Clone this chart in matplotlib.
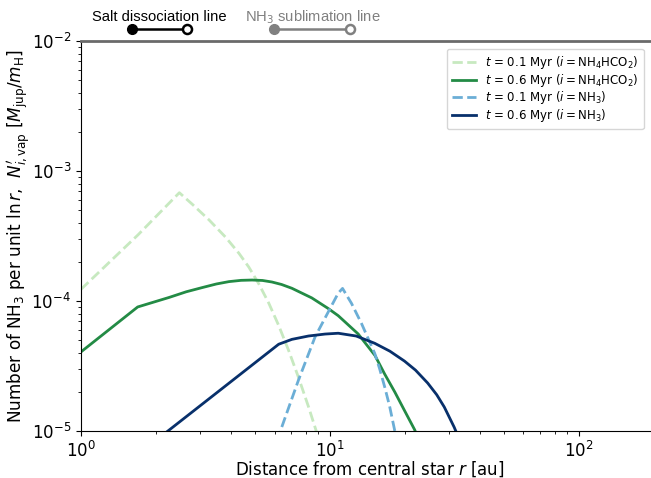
import matplotlib
matplotlib.use("Agg")
import matplotlib.pyplot as plt
import matplotlib.transforms as mtransforms

# ---- data ----
r_salt01 = [1.0, 1.693, 2.485, 2.807, 3.273, 3.816, 4.312, 4.729, 5.184, 5.683, 6.229, 6.83, 7.486, 8.207, 8.857, 9.16]
N_salt01 = [1.23e-4, 3.22e-4, 6.81e-4, 5.53e-4, 4.20e-4, 3.09e-4, 2.33e-4, 1.82e-4, 1.355e-4, 9.64e-5, 6.49e-5, 4.17e-5, 2.58e-5, 1.54e-5, 9.75e-6, 7.9e-6]

r_salt06 = [1.0, 1.69, 2.266, 2.65, 3.077, 3.5, 3.934, 4.4, 4.873, 5.36, 5.857, 6.4, 7.04, 8.46, 9.86, 10.81, 13.0, 15.19, 16.6, 18.26, 19.95, 21.94, 22.77]
N_salt06 = [4.06e-5, 9.0e-5, 1.067e-4, 1.178e-4, 1.27e-4, 1.352e-4, 1.41e-4, 1.442e-4, 1.45e-4, 1.439e-4, 1.40e-4, 1.34e-4, 1.253e-4, 1.057e-4, 8.75e-5, 7.71e-5, 5.58e-5, 3.81e-5, 2.75e-5, 1.99e-5, 1.44e-5, 1.02e-5, 8.53e-6]

r_nh301 = [6.12, 6.42, 7.486, 8.73, 10.81, 11.25, 12.22, 13.40, 15.15, 15.85, 16.61, 17.38, 18.21, 18.6]
N_nh301 = [8.4e-6, 1.08e-5, 2.47e-5, 5.31e-5, 1.15e-4, 1.25e-4, 9.6e-5, 6.73e-5, 3.96e-5, 3.02e-5, 2.19e-5, 1.56e-5, 1.02e-5, 8.4e-6]

r_nh306 = [1.99, 6.23, 7.04, 8.21, 9.57, 10.81, 12.76, 15.15, 17.44, 19.96, 22.1, 24.73, 26.9, 28.84, 31.61, 32.6]
N_nh306 = [8.4e-6, 4.65e-5, 5.07e-5, 5.38e-5, 5.57e-5, 5.65e-5, 5.38e-5, 4.73e-5, 4.11e-5, 3.45e-5, 2.94e-5, 2.34e-5, 1.90e-5, 1.53e-5, 1.07e-5, 9.3e-6]

salt_line_r = [1.61, 2.67]
nh3_line_r = [5.99, 12.1]

labels = [r'$t$ = 0.1 Myr ($i = \mathrm{NH_4HCO_2}$)',
          r'$t$ = 0.6 Myr ($i = \mathrm{NH_4HCO_2}$)',
          r'$t$ = 0.1 Myr ($i = \mathrm{NH_3}$)',
          r'$t$ = 0.6 Myr ($i = \mathrm{NH_3}$)']

c_lightgreen = '#c7e9c0'
c_green = '#238b45'
c_lightblue = '#6baed6'
c_navy = '#08306b'

fig = plt.figure(figsize=(6.51, 4.78), dpi=100)
ax = fig.add_axes([0.1244, 0.0983, 0.8876, 0.8159])

ax.plot(r_salt01, N_salt01, color=c_lightgreen, ls='--', lw=2, label=labels[0])
ax.plot(r_salt06, N_salt06, color=c_green, ls='-', lw=2, label=labels[1])
ax.plot(r_nh301, N_nh301, color=c_lightblue, ls='--', lw=2, label=labels[2])
ax.plot(r_nh306, N_nh306, color=c_navy, ls='-', lw=2, label=labels[3])

ax.set_xscale('log')
ax.set_yscale('log')
ax.set_xlim(1, 210)
ax.set_ylim(1e-5, 1e-2)

ax.spines['right'].set_visible(False)
ax.spines['top'].set_color('#6a6a6a')
ax.spines['top'].set_linewidth(2)

ax.tick_params(axis='both', which='major', labelsize=12)
ax.set_xlabel(r'Distance from central star $r$ [au]', fontsize=12, labelpad=-1.3)
ax.set_ylabel(r'Number of NH$_3$ per unit $\ln r$,  $N^{\prime}_{i,\mathrm{vap}}$ [$M_{\mathrm{jup}}/m_{\mathrm{H}}$]',
              fontsize=12.2, labelpad=-1)

leg = ax.legend(loc='upper right', fontsize=8.5, bbox_to_anchor=(0.984, 0.995), handlelength=2.0,
                labelspacing=0.05, borderpad=0.45)

trans = mtransforms.blended_transform_factory(ax.transData, ax.transAxes)
yline = 1.031
ax.plot(salt_line_r, [yline, yline], color='black', lw=1.8, transform=trans, clip_on=False)
ax.plot([salt_line_r[0]], [yline], 'o', color='black', ms=7, transform=trans, clip_on=False)
ax.plot([salt_line_r[1]], [yline], 'o', color='black', mfc='white', mew=1.8, ms=6.5, transform=trans, clip_on=False)
ax.plot(nh3_line_r, [yline, yline], color='gray', lw=1.8, transform=trans, clip_on=False)
ax.plot([nh3_line_r[0]], [yline], 'o', color='gray', ms=7, transform=trans, clip_on=False)
ax.plot([nh3_line_r[1]], [yline], 'o', color='gray', mfc='white', mew=1.8, ms=6.5, transform=trans, clip_on=False)

ax.text((salt_line_r[0] * salt_line_r[1]) ** 0.5, 1.062, 'Salt dissociation line', transform=trans,
        ha='center', va='center', fontsize=10.6, family='Liberation Sans', color='black')
ax.text((nh3_line_r[0] * nh3_line_r[1]) ** 0.5, 1.062, r'NH$_3$ sublimation line', transform=trans,
        ha='center', va='center', fontsize=10.6, family='Liberation Sans', color='gray')

fig.savefig('out.png', dpi=100)
